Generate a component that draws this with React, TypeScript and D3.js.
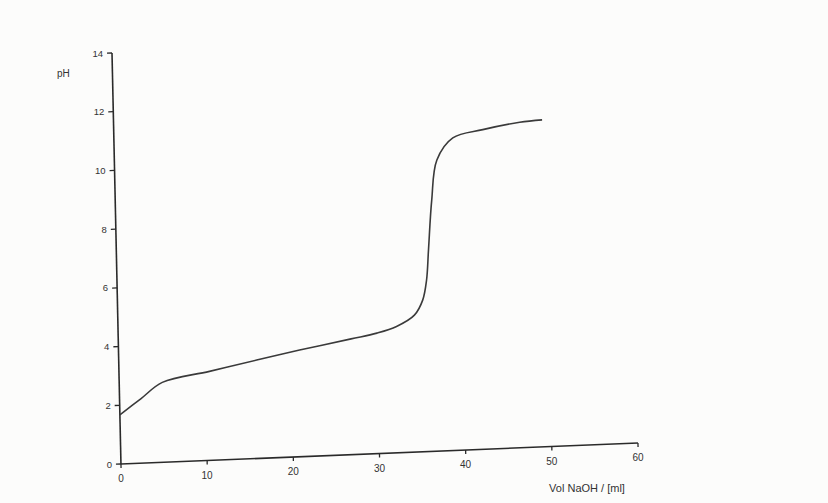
import React, { useEffect, useRef } from 'react';
import * as d3 from 'd3';

// titration curve
const volume = [0, 2.5, 5, 10.5, 16, 21, 27, 30, 32.3, 34.4, 35.4, 35.9, 36.2, 36.7, 37.4, 39.3, 42.8, 47.1, 49.7];
const ph = [1.67, 2.2, 2.72, 3.03, 3.35, 3.63, 3.94, 4.1, 4.3, 4.66, 5.16, 5.84, 6.86, 8.55, 9.91, 10.64, 10.88, 11.08, 11.13];
const xTicks = [0, 10, 20, 30, 40, 50, 60];
const yTicks = [0, 2, 4, 6, 8, 10, 12, 14];

const App: React.FC = () => {
  const svgRef = useRef<SVGSVGElement>(null);

  useEffect(() => {
    if (!svgRef.current) return;
    const svg = d3.select(svgRef.current);
    svg.selectAll('*').remove();

    const width = 828;
    const height = 503;
    const plotW = 517;
    const plotH = 411;
    // the scan is slightly skewed: axes are not quite square
    const m = { a: 1, b: -0.0406, c: 0.0218, d: 1, e: 112, f: 53 };

    svg.attr('width', width).attr('height', height);
    svg.append('rect').attr('width', width).attr('height', height).attr('fill', '#fcfcfb');

    const x = d3.scaleLinear().domain([0, 60]).range([0, plotW]);
    const y = d3.scaleLinear().domain([0, 14]).range([plotH, 0]);

    const proj = (gx: number, gy: number): [number, number] => [
      m.a * gx + m.c * gy + m.e,
      m.b * gx + m.d * gy + m.f,
    ];

    const g = svg.append('g')
      .attr('transform', `matrix(${m.a},${m.b},${m.c},${m.d},${m.e},${m.f})`);

    const ink = '#2a2a2a';

    // axes
    g.append('line')
      .attr('x1', 0).attr('y1', y(0)).attr('x2', x(60)).attr('y2', y(0))
      .attr('stroke', ink).attr('stroke-width', 1.6);
    g.append('line')
      .attr('x1', 0).attr('y1', y(0)).attr('x2', 0).attr('y2', y(14))
      .attr('stroke', ink).attr('stroke-width', 1.6);

    g.selectAll('.xtick')
      .data(xTicks)
      .enter().append('line')
      .attr('x1', (d) => x(d)).attr('x2', (d) => x(d))
      .attr('y1', y(0)).attr('y2', y(0) + 4)
      .attr('stroke', ink).attr('stroke-width', 1.3);

    g.selectAll('.ytick')
      .data(yTicks)
      .enter().append('line')
      .attr('x1', -5).attr('x2', 0)
      .attr('y1', (d) => y(d)).attr('y2', (d) => y(d))
      .attr('stroke', ink).attr('stroke-width', 1.3);

    // curve
    const pts: [number, number][] = volume.map((v, i) => [v, ph[i]]);
    const line = d3.line<[number, number]>()
      .x((d) => x(d[0]))
      .y((d) => y(d[1]))
      .curve(d3.curveCatmullRom.alpha(0.5));
    g.append('path')
      .attr('d', line(pts))
      .attr('fill', 'none')
      .attr('stroke', '#3a3a3a')
      .attr('stroke-width', 1.6);

    // labels (kept upright)
    const font = 'Liberation Sans, Arial, sans-serif';
    svg.selectAll('.xlabel')
      .data(xTicks)
      .enter().append('text')
      .attr('x', (d) => proj(x(d), y(0))[0])
      .attr('y', (d) => proj(x(d), y(0))[1] + 18)
      .attr('text-anchor', 'middle')
      .attr('fill', '#333')
      .style('font-family', font)
      .style('font-size', '10px')
      .text((d) => d);

    svg.selectAll('.ylabel')
      .data(yTicks)
      .enter().append('text')
      .attr('x', (d) => proj(0, y(d))[0] - 9)
      .attr('y', (d) => proj(0, y(d))[1] + 3.5)
      .attr('text-anchor', 'end')
      .attr('fill', '#333')
      .style('font-family', font)
      .style('font-size', '9.5px')
      .text((d) => d);

    svg.append('text')
      .attr('x', 57).attr('y', 77)
      .attr('fill', '#333')
      .style('font-family', font)
      .style('font-size', '10px')
      .text('pH');

    svg.append('text')
      .attr('x', 587).attr('y', 492)
      .attr('text-anchor', 'middle')
      .attr('fill', '#333')
      .style('font-family', font)
      .style('font-size', '11px')
      .text('Vol NaOH / [ml]');
  }, []);

  return (
    <svg ref={svgRef} style={{ position: 'absolute', left: 0, top: 0, display: 'block' }}></svg>
  );
};

export default App;
